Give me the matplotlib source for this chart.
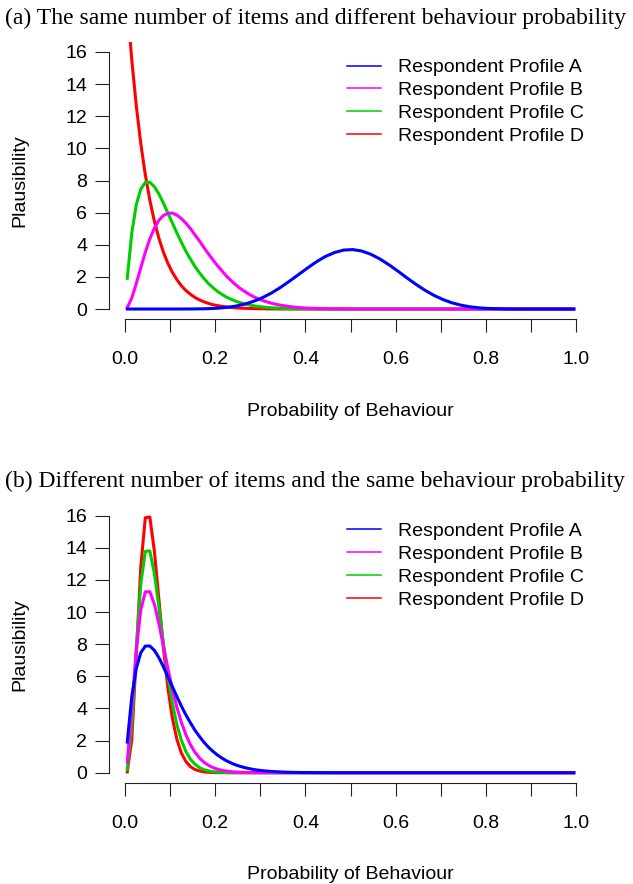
import matplotlib
matplotlib.use("Agg")
import matplotlib.pyplot as plt
from matplotlib.lines import Line2D

plt.rcParams['font.family'] = ['Liberation Sans', 'DejaVu Sans']

# ---- panel (a): same number of items, different behaviour probability ----
x_a = [0.005, 0.015, 0.025, 0.035, 0.045, 0.055, 0.065, 0.075, 0.085, 0.095,
       0.105, 0.115, 0.125, 0.135, 0.145, 0.155, 0.165, 0.175, 0.185, 0.195,
       0.205, 0.215, 0.225, 0.235, 0.245, 0.255, 0.265, 0.275, 0.285, 0.295,
       0.305, 0.325, 0.345, 0.365, 0.385, 0.405, 0.425, 0.445, 0.465, 0.485,
       0.505, 0.525, 0.545, 0.565, 0.585, 0.605, 0.625, 0.645, 0.665, 0.685,
       0.705, 0.725, 0.745, 0.765, 0.785, 0.805,
       0.845, 0.895, 0.945, 0.995]

a_prof_a = [0, 0, 0, 0, 0, 0, 0, 0, 0, 0,
            0, 0, 0.001, 0.002, 0.003, 0.006, 0.01, 0.015, 0.024, 0.035,
            0.051, 0.073, 0.10, 0.137, 0.18, 0.24, 0.305, 0.385, 0.48, 0.59,
            0.71, 1.00, 1.35, 1.74, 2.15, 2.56, 2.95, 3.28, 3.52, 3.67,
            3.70, 3.61, 3.41, 3.12, 2.76, 2.36, 1.94, 1.54, 1.17, 0.85,
            0.59, 0.385, 0.24, 0.137, 0.073, 0.035,
            0.004, 0, 0, 0]
a_prof_b = [0.09, 0.68, 1.58, 2.57, 3.53, 4.36, 5.03, 5.52, 5.82, 5.96,
            5.97, 5.85, 5.63, 5.34, 5.01, 4.62, 4.24, 3.83, 3.43, 3.06,
            2.70, 2.37, 2.05, 1.77, 1.52, 1.29, 1.10, 0.92, 0.77, 0.64,
            0.53, 0.357, 0.235, 0.15, 0.094, 0.057, 0.034, 0.02, 0.011, 0.006,
            0, 0, 0, 0, 0, 0, 0, 0, 0, 0,
            0, 0, 0, 0, 0, 0,
            0, 0, 0, 0]
a_prof_c = [1.91, 4.73, 6.49, 7.47, 7.88, 7.89, 7.62, 7.17, 6.60, 5.98,
            5.36, 4.74, 4.15, 3.60, 3.11, 2.65, 2.26, 1.90, 1.59, 1.33,
            1.10, 0.91, 0.74, 0.61, 0.49, 0.40, 0.32, 0.26, 0.20, 0.16,
            0.127, 0.078, 0.047, 0.027, 0.016, 0.009, 0.005, 0.003, 0.001, 0,
            0, 0, 0, 0, 0, 0, 0, 0, 0, 0,
            0, 0, 0, 0, 0, 0,
            0, 0, 0, 0]
a_prof_d = [19.00, 15.52, 12.66, 10.30, 8.36, 6.78, 5.48, 4.42, 3.55, 2.85,
            2.28, 1.83, 1.45, 1.15, 0.92, 0.72, 0.57, 0.45, 0.35, 0.27,
            0.21, 0.17, 0.13, 0.10, 0.076, 0.058, 0.044, 0.034, 0.026, 0.019,
            0.0145, 0.008, 0.0045, 0.0024, 0.0013, 0.0007, 0.0003, 0, 0, 0,
            0, 0, 0, 0, 0, 0, 0, 0, 0, 0,
            0, 0, 0, 0, 0, 0,
            0, 0, 0, 0]

# ---- panel (b): different number of items, same behaviour probability ----
x_b = [0.005, 0.015, 0.025, 0.035, 0.045, 0.055, 0.065, 0.075, 0.085, 0.095,
       0.105, 0.115, 0.125, 0.135, 0.145, 0.155, 0.165, 0.175, 0.185, 0.195,
       0.205, 0.215, 0.225, 0.235, 0.245, 0.255, 0.265, 0.275, 0.285, 0.295,
       0.305, 0.325, 0.345, 0.365, 0.385, 0.405, 0.425, 0.445, 0.465, 0.485,
       0.505, 0.6, 0.7, 0.8, 0.9, 0.995]

b_prof_a = [1.91, 4.73, 6.49, 7.47, 7.88, 7.89, 7.62, 7.17, 6.60, 5.98,
            5.36, 4.74, 4.15, 3.60, 3.11, 2.65, 2.26, 1.90, 1.59, 1.33,
            1.10, 0.91, 0.74, 0.61, 0.49, 0.40, 0.32, 0.26, 0.20, 0.16,
            0.127, 0.078, 0.047, 0.027, 0.016, 0.009, 0.005, 0.003, 0.001, 0,
            0, 0, 0, 0, 0, 0]
b_prof_b = [0.66, 4.05, 7.64, 10.12, 11.26, 11.27, 10.51, 9.30, 7.90, 6.50,
            5.21, 4.07, 3.13, 2.36, 1.75, 1.28, 0.92, 0.655, 0.46, 0.32,
            0.22, 0.15, 0.101, 0.067, 0.044, 0.029, 0.019, 0.012, 0.008, 0.005,
            0.003, 0.001, 0, 0, 0, 0, 0, 0, 0, 0,
            0, 0, 0, 0, 0, 0]
b_prof_c = [0.20, 2.98, 7.70, 11.74, 13.78, 13.81, 12.43, 10.35, 8.11, 6.05,
            4.34, 3.00, 2.02, 1.32, 0.84, 0.53, 0.32, 0.19, 0.11, 0.066,
            0.038, 0.021, 0.012, 0.006, 0.003, 0.002, 0.001, 0, 0, 0,
            0, 0, 0, 0, 0, 0, 0, 0, 0, 0,
            0, 0, 0, 0, 0, 0]
b_prof_d = [0.05, 2.06, 7.31, 12.82, 15.87, 15.92, 13.83, 10.83, 7.82, 5.29,
            3.40, 2.08, 1.22, 0.70, 0.38, 0.20, 0.11, 0.054, 0.026, 0.012,
            0.006, 0.003, 0.001, 0, 0, 0, 0, 0, 0, 0,
            0, 0, 0, 0, 0, 0, 0, 0, 0, 0,
            0, 0, 0, 0, 0, 0]

labels = ['Respondent Profile A', 'Respondent Profile B',
          'Respondent Profile C', 'Respondent Profile D']
colors = ['#0000FF', '#FF00FF', '#00CD00', '#FF0000']
x_ticks = [0.0, 0.1, 0.2, 0.3, 0.4, 0.5, 0.6, 0.7, 0.8, 0.9, 1.0]
y_ticks = [0, 2, 4, 6, 8, 10, 12, 14, 16]

W, H = 633, 884


def draw_panel(fig, top_px, title, x, series):
    # axes box in pixels, like R's plot region (4% padding around the data)
    left, right = 109.4, 591.6
    bottom = top_px + 277.6
    ax = fig.add_axes([left / W, 1 - bottom / H, (right - left) / W, 277.6 / H])

    # draw D first so profile A ends up on top
    for ys, c in reversed(list(zip(series, colors))):
        ax.plot(x, ys, color=c, lw=2.2, solid_joinstyle='round')

    ax.set_xlim(-0.0346, 1.0346)
    ax.set_ylim(-0.64, 16.64)
    for s in ['top', 'right']:
        ax.spines[s].set_visible(False)
    ax.spines['left'].set_bounds(0, 16)
    ax.spines['bottom'].set_bounds(0, 1)
    for s in ['left', 'bottom']:
        ax.spines[s].set_linewidth(0.8)
        ax.spines[s].set_color('#222222')

    ax.set_xticks(x_ticks)
    ax.set_xticklabels(['%.1f' % t if i % 2 == 0 else '' for i, t in enumerate(x_ticks)])
    ax.set_yticks(y_ticks)
    ax.tick_params(axis='x', length=9.5, width=0.8, pad=13.5, labelsize=14, color='#222222')
    ax.tick_params(axis='y', length=10, width=0.8, pad=6, labelsize=14, color='#222222')

    handles = [Line2D([0], [0], color=c, lw=1.1) for c in colors]
    ax.legend(handles, labels, loc='upper left', frameon=False, fontsize=14,
              bbox_to_anchor=(347 / W, 1 - (top_px + 17) / H),
              bbox_transform=fig.transFigure, borderpad=0, borderaxespad=0,
              handlelength=1.75, handletextpad=0.85, labelspacing=0.27)

    fig.text(5 / W, 1 - (top_px - 23.5) / H, title, family='Liberation Serif',
             fontsize=17, ha='left', va='center')
    fig.text(20 / W, 1 - (top_px + 138.8) / H, 'Plausibility', rotation=90,
             fontsize=14, ha='center', va='center')
    fig.text(350.5 / W, 1 - (top_px + 369.5) / H, 'Probability of Behaviour',
             fontsize=14, ha='center', va='center')
    return ax


def main():
    fig = plt.figure(figsize=(W / 100, H / 100), dpi=100)
    draw_panel(fig, 41.7, '(a) The same number of items and different behaviour probability',
               x_a, [a_prof_a, a_prof_b, a_prof_c, a_prof_d])
    draw_panel(fig, 505.4, '(b) Different number of items and the same behaviour probability',
               x_b, [b_prof_a, b_prof_b, b_prof_c, b_prof_d])
    fig.savefig('out.png', dpi=100)


if __name__ == '__main__':
    main()
